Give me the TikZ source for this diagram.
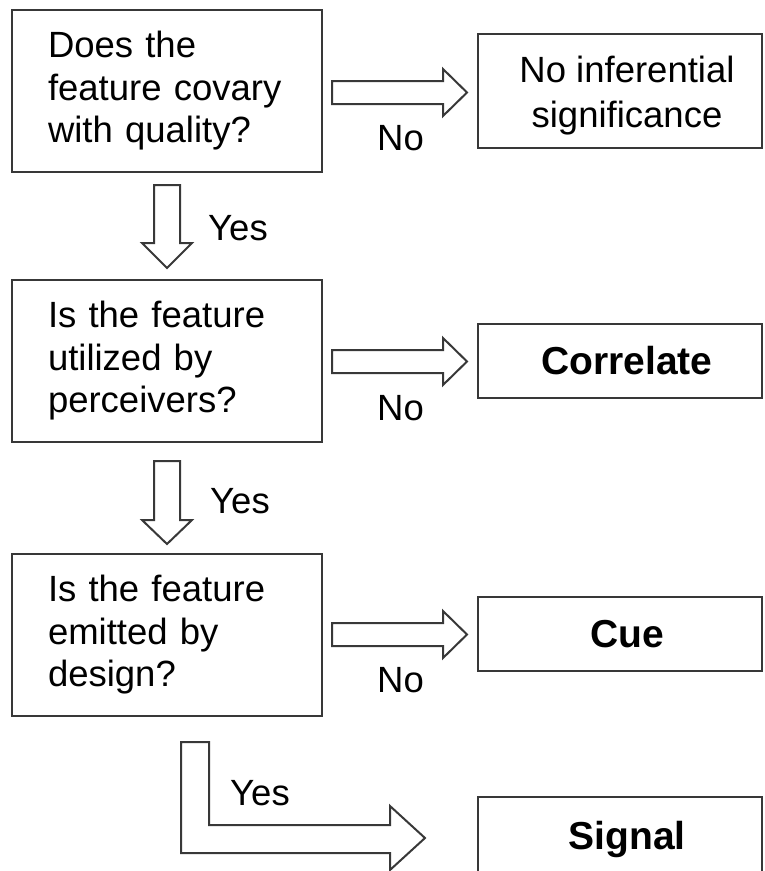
\documentclass[tikz,border=0pt]{standalone}
\usepackage{fontspec}
\setmainfont{Liberation Sans}
\definecolor{linec}{HTML}{383838}
\newcommand{\sh}{\hspace*{14pt}}
\begin{document}
\begin{tikzpicture}[x=1pt,y=-1pt,
  qbox/.style={draw=linec, line width=2pt, minimum width=310pt, minimum height=162pt,
    text width=238pt, align=left, inner xsep=0pt, inner ysep=0pt,
    font=\fontsize{36.5}{42.5}\selectfont},
  abox/.style={draw=linec, line width=2pt, minimum width=284pt, inner sep=0pt,
    align=center, font=\fontsize{36.5}{45}\selectfont},
  bbox/.style={abox, minimum height=74pt, font=\fontsize{39}{45}\selectfont\bfseries},
  lbl/.style={anchor=base west, inner sep=0pt, font=\fontsize{36.5}{42.5}\selectfont},
  blockarrow/.style={draw=linec, line width=2pt, fill=white, line join=miter}]
\useasboundingbox (0,0) rectangle (765,871);

% question boxes
\node[qbox] (q1) at (167,91) {Does the\\feature covary\\with quality?};
\node[qbox] (q2) at (167,361) {Is the feature\\utilized by\\perceivers?};
\node[qbox] (q3) at (167,635) {Is the feature\\emitted by\\design?};

% result boxes
\node[abox, minimum height=114pt] (r1) at (620,91) {\rule{0pt}{35pt}\sh No inferential\\\sh significance};
\node[bbox] (r2) at (620,361) {\sh Correlate};
\node[bbox] (r3) at (620,634) {\sh Cue};
\node[bbox, minimum height=84pt] (r4) at (620,839) {\sh Signal};

% horizontal block arrows (No)
\foreach \yc in {92.5,361.5,634.5}{
  \draw[blockarrow] (332,\yc-11.5) -- (443,\yc-11.5) -- (443,\yc-23.5) -- (467,\yc)
    -- (443,\yc+23.5) -- (443,\yc+11.5) -- (332,\yc+11.5) -- cycle;
}
\node[lbl] (n1) at (377,150) {No};
\node[lbl] (n2) at (377,420) {No};
\node[lbl] (n3) at (377,692) {No};

% vertical block arrows (Yes)
\draw[blockarrow] (154,185) -- (180,185) -- (180,243) -- (192,243) -- (167,268)
  -- (142,243) -- (154,243) -- cycle;
\draw[blockarrow] (154,461) -- (180,461) -- (180,520) -- (192,520) -- (167,544)
  -- (142,520) -- (154,520) -- cycle;
\node[lbl] (y1) at (208,240) {Yes};
\node[lbl] (y2) at (210,513) {Yes};

% L-shaped block arrow to Signal
\draw[blockarrow] (181,742) -- (209,742) -- (209,825) -- (390,825) -- (390,806)
  -- (425,838) -- (390,870) -- (390,853) -- (181,853) -- cycle;
\node[lbl] (y3) at (230,805) {Yes};
\end{tikzpicture}
\end{document}
